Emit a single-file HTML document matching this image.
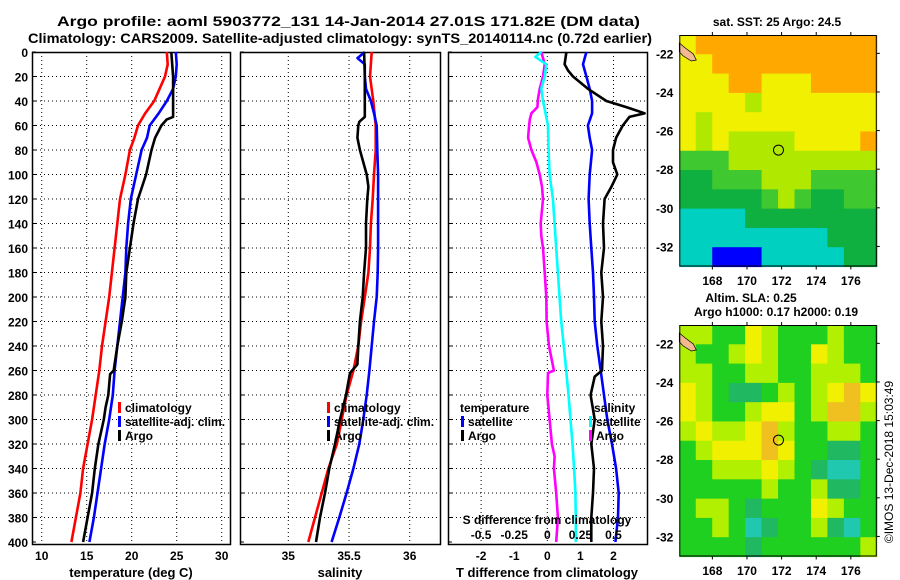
<!DOCTYPE html>
<html><head><meta charset="utf-8"><style>
html,body{margin:0;padding:0;background:#fff;}
svg{display:block;font-family:"Liberation Sans",sans-serif;font-weight:bold;}
</style></head><body>
<svg id="c" width="900" height="580" viewBox="0 0 900 580">
<text x="57" y="26" font-size="14" textLength="583" lengthAdjust="spacingAndGlyphs">Argo profile: aoml 5903772_131 14-Jan-2014 27.01S 171.82E (DM data)</text>
<text x="28" y="43" font-size="14" textLength="624" lengthAdjust="spacingAndGlyphs">Climatology: CARS2009. Satellite-adjusted climatology: synTS_20140114.nc (0.72d earlier)</text>
<text x="777" y="26" font-size="12" text-anchor="middle">sat. SST: 25 Argo: 24.5</text>
<text x="751" y="302" font-size="12" text-anchor="middle">Altim. SLA: 0.25</text>
<text x="776" y="316" font-size="12" text-anchor="middle">Argo h1000: 0.17 h2000: 0.19</text>
<text transform="translate(893,462) rotate(-90)" font-size="12" font-weight="normal" text-anchor="middle">©IMOS 13-Dec-2018 15:03:49</text>
<g id="g"></g>
</svg>
<script>
// ---------- data ----------
const tDepth   = [0,10,20,30,40,50,60,70,80,100,120,140,160,180,200,220,240,260,280,300,320,340,360,380,400];
const tClim    = [23.9,24.0,23.7,23.1,22.5,21.5,20.7,20.3,19.8,19.3,18.7,18.4,18.1,17.8,17.5,17.1,16.7,16.4,16.0,15.6,15.1,14.6,14.3,13.8,13.3];
const tSat     = [24.9,25.0,24.9,24.6,23.9,23.0,22.0,21.7,21.1,20.5,19.9,19.6,19.4,19.3,19.0,18.7,18.4,18.1,17.9,17.5,17.0,16.6,16.2,15.8,15.3];
const argoTDepth = [0,20,40,53,55,60,70,80,100,120,140,160,180,200,220,240,260,263,280,290,300,320,340,360,380,400];
const argoT      = [24.4,24.6,24.6,24.6,23.9,23.3,22.6,22.2,21.6,20.7,20.2,19.8,19.4,19.3,18.9,18.4,18.0,17.6,17.4,17.1,16.9,16.3,15.9,15.6,15.1,14.6];

const sDepth   = [0,20,40,60,80,100,120,140,160,180,200,220,240,260,280,300,320,340,360,380,400];
const sClim    = [35.687,35.673,35.70,35.72,35.72,35.706,35.695,35.68,35.673,35.66,35.63,35.60,35.577,35.536,35.48,35.44,35.40,35.33,35.275,35.22,35.165];
const satSDepth = [0,5,10,20,30,40,50,60,80,100,120,140,160,180,200,220,240,260,280,300,320,340,360,380,400];
const sSat      = [35.63,35.57,35.63,35.63,35.64,35.68,35.706,35.728,35.733,35.74,35.74,35.74,35.74,35.736,35.728,35.706,35.687,35.668,35.646,35.618,35.585,35.536,35.48,35.42,35.357];
const argoSDepth = [0,20,40,53,57,60,70,80,100,110,120,140,160,180,200,220,240,255,262,280,300,320,340,360,380,400];
const argoS      = [35.624,35.63,35.63,35.63,35.585,35.577,35.569,35.59,35.646,35.66,35.651,35.64,35.64,35.624,35.613,35.59,35.577,35.569,35.508,35.475,35.426,35.385,35.338,35.302,35.261,35.228];

const dTArgoDepth = [0,10,20,30,38,45,50,55,60,70,80,90,100,110,120,140,150,160,180,200,220,240,260,262,280,300,320,330,340,360,380,400];
const dTArgo      = [-0.18,-0.08,-0.13,-0.23,-0.28,-0.30,-0.48,-0.53,-0.55,-0.58,-0.48,-0.33,-0.23,-0.16,-0.13,-0.20,-0.18,-0.13,-0.08,-0.03,-0.02,0.05,0.20,0.02,0.0,0.07,0.14,0.22,0.20,0.27,0.32,0.27];
const dTSatDepth = [0,4,10,20,30,40,60,80,100,120,140,160,180,200,220,240,260,280,300,320,340,360,380,400];
const dTSat      = [-0.18,-0.36,-0.03,-0.08,-0.18,-0.13,0.02,0.04,0.07,0.17,0.22,0.27,0.32,0.37,0.42,0.50,0.57,0.64,0.70,0.76,0.81,0.85,0.86,0.86];
const dSSatDepth = [0,10,20,30,40,50,60,70,80,100,120,140,160,180,200,220,240,260,280,300,320,340,360,380,400];
const dSSat      = [0.295,0.27,0.295,0.32,0.338,0.338,0.307,0.32,0.338,0.32,0.312,0.32,0.332,0.345,0.353,0.358,0.378,0.403,0.428,0.453,0.489,0.52,0.539,0.534,0.514];
const dSArgoDepth = [0,10,15,20,30,40,45,50,53,60,70,80,90,100,110,120,140,160,180,200,220,240,260,265,280,300,320,340,360,380,400];
const dSArgo      = [0.144,0.131,0.156,0.194,0.307,0.446,0.597,0.735,0.62,0.57,0.52,0.496,0.496,0.529,0.484,0.433,0.421,0.428,0.408,0.421,0.408,0.421,0.413,0.358,0.327,0.358,0.332,0.353,0.345,0.332,0.332];

const depthTicks = [0,20,40,60,80,100,120,140,160,180,200,220,240,260,280,300,320,340,360,380,400];
const tTicks = [10,15,20,25,30];
const sTicks = [35,35.5,36];
const sTickLabels = ["35","35.5","36"];
const dTTicks = [-2,-1,0,1,2];
const dSTicks = [-0.5,-0.25,0,0.25,0.5];
const dSTickLabels = ["-0.5","-0.25","0","0.25","0.5"];
const lonTicks = [168,170,172,174,176];
const latTicks = [-22,-24,-26,-28,-30,-32];

// map grids (rows lat -21..-33, cols lon 166..177.5)
const sstGrid = [
 [5,6,6,6,6,6,6,6,6,6,6,6],
 [5,5,6,6,6,6,6,6,6,6,6,6],
 [5,5,5,6,6,5,5,5,6,6,6,6],
 [5,5,5,5,4,5,5,5,5,5,5,5],
 [5,4,5,5,5,5,5,5,5,5,5,5],
 [5,4,5,4,4,4,4,5,5,5,5,6],
 [3,3,3,4,4,4,4,4,4,4,4,4],
 [2,2,3,3,3,4,4,4,3,3,3,3],
 [2,2,2,2,2,3,4,3,2,2,3,3],
 [1,1,1,1,2,2,2,2,2,2,2,2],
 [1,1,1,1,1,1,1,1,1,2,2,2],
 [1,1,0,0,0,1,1,1,1,1,2,2]];
const slaGrid = [
 [4,4,3,3,5,4,3,3,3,4,3,3],
 [4,3,3,4,5,4,3,3,5,4,3,3],
 [4,4,3,3,4,4,3,3,4,4,4,3],
 [5,4,3,2,2,3,4,3,4,5,6,5],
 [5,4,3,3,4,5,5,3,4,6,6,4],
 [4,5,4,4,5,6,4,3,3,4,4,3],
 [3,4,5,5,5,6,5,3,3,2,2,3],
 [3,3,4,4,4,5,4,3,2,1,1,3],
 [3,3,3,3,3,4,3,3,4,2,2,3],
 [3,4,4,3,2,3,3,3,5,4,3,3],
 [3,3,4,3,1,2,3,3,4,2,1,3],
 [3,3,3,3,2,3,3,3,3,3,3,4]];
const sstColors = ["#0000ff","#00d0c0","#10b040","#40c830","#b0e800","#f0f000","#ffa800"];
const slaColors = ["#0000ff","#20c8b0","#20b860","#20d020","#b0f000","#f0f000","#f0c020"];
const argoLon = 171.82, argoLat = -27.01;

// ---------- helpers ----------
const NS="http://www.w3.org/2000/svg";
const G=document.getElementById('g');
function mk(tag,attrs,parent){const e=document.createElementNS(NS,tag);for(const k in attrs)e.setAttribute(k,attrs[k]);(parent||G).appendChild(e);return e;}
const Y0=52, Y1=545;
function yD(d){return 52+d*1.225;}
function xT(v){return 41.7+(v-10)*9;}
function xS(v){return 288.3+(v-35)*121.4;}
function xDT(v){return 547.3+v*33.1;}
function xDS(v){return 547.3+v*132.4;}

function panel(x0,x1,name,vgrid){
  const g=mk('g',{});
  
  
  mk('rect',{x:x0,y:Y0,width:x1-x0,height:Y1-Y0,fill:'#fff'},g);
  depthTicks.forEach(d=>{ if(d>0&&d<400){const l=mk('line',{x1:x0,x2:x1,y1:yD(d),y2:yD(d),stroke:'#000','stroke-width':1,'stroke-dasharray':'1,3'},g);
    }
    mk('line',{x1:x0,x2:x0+4,y1:yD(d),y2:yD(d),stroke:'#000'},g);});
  vgrid.forEach(x=>{const l=mk('line',{x1:x,x2:x,y1:Y0,y2:Y1,stroke:'#000','stroke-width':1,'stroke-dasharray':'1,3'},g);
    });
  const fr=mk('rect',{x:x0+0.5,y:Y0+0.5,width:x1-x0-1,height:Y1-Y0-1,fill:'none',stroke:'#000','stroke-width':1.5},g);
  
  return g;
}
function line(depths,vals,xf,color,name,parent){
  const pts=depths.map((d,i)=>xf(vals[i]).toFixed(1)+','+yD(d).toFixed(1)).join(' ');
  const p=mk('polyline',{points:pts,fill:'none',stroke:color,'stroke-width':2.6,'stroke-linejoin':'round'},parent);
  
  
}
function txt(x,y,s,size,anchor,name){const t=mk('text',{x:x,y:y,'font-size':size,'text-anchor':anchor||'start'});t.textContent=s;
  return t;}
function legend(x,y,color,s,name){const r=mk('rect',{x:x,y:y-10,width:3,height:11,fill:color});
  
  txt(x+7,y,s,12,'start',name);}

// ---------- panel 1 ----------
const p1=panel(32,231,'temperature-panel',tTicks.map(xT));
line(tDepth,tClim,xT,'#ff0000','temperature-climatology-line',p1);
line(tDepth,tSat,xT,'#0000ff','temperature-satellite-line',p1);
line(argoTDepth,argoT,xT,'#000000','temperature-argo-line',p1);
depthTicks.forEach(d=>txt(28,yD(d)+5,String(d),12,'end','depth-tick-label'));
tTicks.forEach(v=>txt(xT(v),560,String(v),12,'middle','temperature-tick-label'));
txt(131,577,'temperature (deg C)',13,'middle','temperature-axis-title');
legend(118,412,'#ff0000','climatology','legend-climatology');
legend(118,426,'#0000ff','satellite-adj. clim.','legend-satellite-adj');
legend(118,440,'#000000','Argo','legend-argo');

// ---------- panel 2 ----------
const p2=panel(240,441,'salinity-panel',sTicks.map(xS));
line(sDepth,sClim,xS,'#ff0000','salinity-climatology-line',p2);
line(satSDepth,sSat,xS,'#0000ff','salinity-satellite-line',p2);
line(argoSDepth,argoS,xS,'#000000','salinity-argo-line',p2);
sTicks.forEach((v,i)=>txt(xS(v),560,sTickLabels[i],12,'middle','salinity-tick-label'));
txt(340,577,'salinity',13,'middle','salinity-axis-title');
legend(327,412,'#ff0000','climatology','legend2-climatology');
legend(327,426,'#0000ff','satellite-adj. clim.','legend2-satellite-adj');
legend(327,440,'#000000','Argo','legend2-argo');

// ---------- panel 3 ----------
const p3=panel(448,648,'difference-panel',[-2,0,2].map(xDT));
line(dTArgoDepth,dTArgo,xDT,'#ff00ff','t-diff-argo-line',p3);
line(dTSatDepth,dTSat,xDT,'#00ffff','t-diff-satellite-line',p3);
line(dSSatDepth,dSSat,xDS,'#0000ff','s-diff-satellite-line',p3);
line(dSArgoDepth,dSArgo,xDS,'#000000','s-diff-argo-line',p3);
dTTicks.forEach(v=>txt(xDT(v),560,String(v),12,'middle','t-diff-tick-label'));
txt(547,577,'T difference from climatology',13,'middle','t-diff-axis-title');
txt(547,524,'S difference from climatology',12,'middle','s-diff-axis-title');
dSTicks.forEach((v,i)=>txt(xDS(v),539,dSTickLabels[i],12,'middle','s-diff-tick-label'));
txt(460,412,'temperature',12,'start','legend3-temperature-heading');
legend(461,426,'#0000ff','satellite','legend3-t-satellite');
legend(461,440,'#000000','Argo','legend3-t-argo');
txt(594,412,'salinity',12,'start','legend3-salinity-heading');
legend(589,426,'#00ffff','satellite','legend3-s-satellite');
legend(589,440,'#ff00ff','Argo','legend3-s-argo');

// ---------- maps ----------
function map(x0,y0,grid,colors,name,labelY){
  const W=197.5,H=231.5;
  const g=mk('g',{});
  
  
  const lon0=166.09,lon1=177.5,lat0=-21.05,lat1=-33.04;
  const xL=v=>x0+(v-lon0)/(lon1-lon0)*W;
  const yL=v=>y0+(v-lat0)/(lat1-lat0)*H;
  const rows=grid.length, cols=grid[0].length;
  grid.forEach((row,r)=>row.forEach((v,c)=>{
    const cell=mk('rect',{x:(x0+c*W/cols).toFixed(2),y:(y0+r*H/rows).toFixed(2),width:(W/cols+0.6).toFixed(2),height:(H/rows+0.6).toFixed(2),fill:colors[v]},g);
    
    
  }));
  const isl=mk('path',{d:`M${x0} ${y0+8} L${x0+6} ${y0+13} L${x0+14} ${y0+19} L${x0+17} ${y0+25} L${x0+12} ${y0+26} L${x0+4} ${y0+21} L${x0} ${y0+17} Z`,fill:'#f4b890',stroke:'#000','stroke-width':0.7},g);
  
  const c=mk('circle',{cx:xL(argoLon),cy:yL(argoLat),r:5,fill:'none',stroke:'#000','stroke-width':1},g);
  
  const fr=mk('rect',{x:x0+0.5,y:y0+0.5,width:W-1,height:H-1,fill:'none',stroke:'#000','stroke-width':1},g);
  
  lonTicks.forEach(v=>{mk('line',{x1:xL(v),x2:xL(v),y1:y0+H,y2:y0+H+3,stroke:'#000'},g);mk('line',{x1:xL(v),x2:xL(v),y1:y0,y2:y0-3,stroke:'#000'},g);
    txt(xL(v),labelY,String(v),12,'middle','map-lon-label');});
  latTicks.forEach(v=>{mk('line',{x1:x0+W,x2:x0+W+3,y1:yL(v),y2:yL(v),stroke:'#000'},g);
    txt(x0-6,yL(v)+5,String(v),12,'end','map-lat-label');});
}
map(679.3,35,sstGrid,sstColors,'sst-map',285);
map(679.3,325,slaGrid,slaColors,'sla-map',575);
</script>
</body></html>
